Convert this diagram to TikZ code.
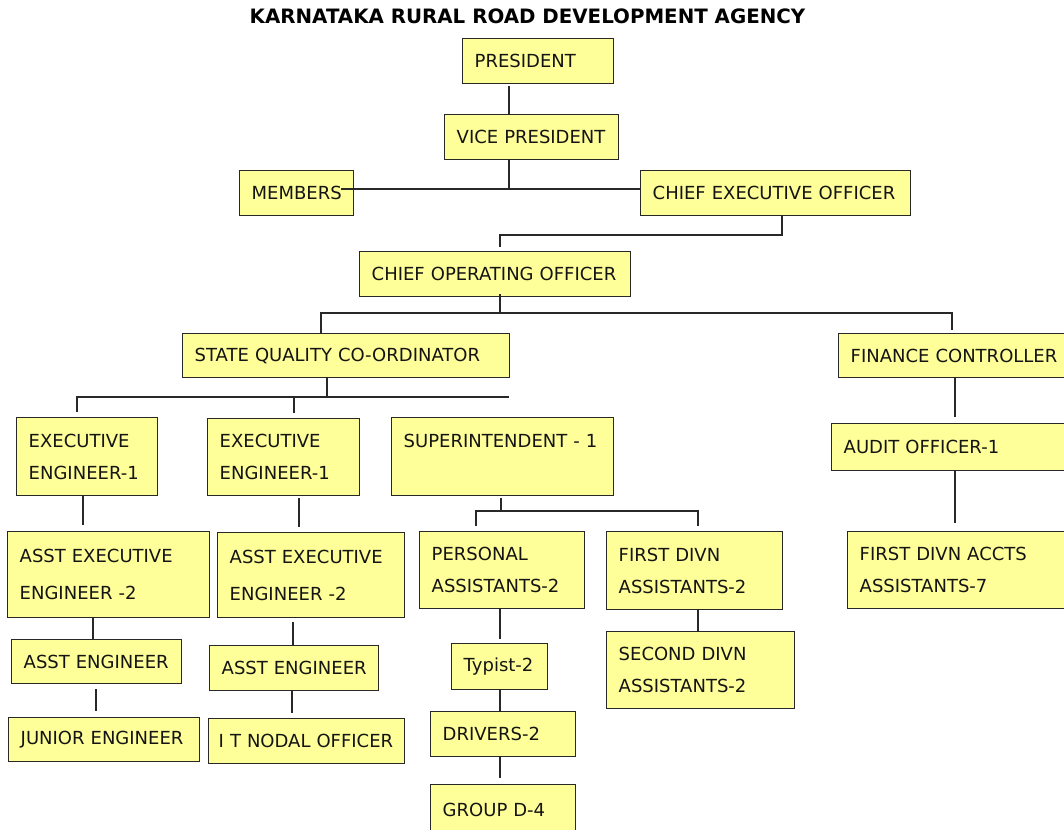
\documentclass[tikz,border=0pt]{standalone}
\usepackage{fontspec}
\setmainfont{DejaVu Sans}
\usepackage{tikz}
\definecolor{boxyellow}{RGB}{255,255,153}
\definecolor{boxline}{RGB}{40,40,40}

\begin{document}
\begin{tikzpicture}[x=1pt,y=-1pt,
  box/.style={draw=boxline,line width=1.4pt,fill=boxyellow,anchor=north west,align=left,
    inner xsep=12pt,inner ysep=0pt,text=black!92,font=\fontsize{18}{32}\selectfont},
  link/.style={draw=boxline,line width=1.2pt}]
\useasboundingbox (0,0) rectangle (1064,829);
\node[anchor=base,font=\bfseries\fontsize{19.8}{22}\selectfont] (title) at (527.5,24) {KARNATAKA RURAL ROAD DEVELOPMENT AGENCY};

\node[box,text width=127pt,minimum height=45pt] (pres) at (462,38) {PRESIDENT};
\node[box,text width=150pt,minimum height=45pt] (vp) at (444,114) {VICE PRESIDENT};
\node[box,text width=90pt,minimum height=45pt] (mem) at (239,170) {MEMBERS};
\node[box,text width=246pt,minimum height=45pt] (ceo) at (640,170) {CHIEF EXECUTIVE OFFICER};
\node[box,text width=247pt,minimum height=45pt] (coo) at (359,251) {CHIEF OPERATING OFFICER};
\node[box,text width=303pt,minimum height=44pt] (sqc) at (182,333) {STATE QUALITY CO-ORDINATOR};
\node[box,text width=216pt,minimum height=44pt] (fc) at (838,333) {FINANCE CONTROLLER};
\node[box,text width=117pt,minimum height=78pt] (eea) at (16,417) {EXECUTIVE\\ENGINEER-1};
\node[box,text width=128pt,minimum height=77pt] (eeb) at (207,418) {EXECUTIVE\\ENGINEER-1};
\node[box,text width=198pt,minimum height=78pt] (supt) at (391,417) {SUPERINTENDENT - 1\\ \mbox{}};
\node[box,text width=178pt,minimum height=86pt] (aeea) at (7,531) {ASST EXECUTIVE\\[5pt]ENGINEER -2};
\node[box,text width=163pt,minimum height=85pt] (aeeb) at (217,532) {ASST EXECUTIVE\\[5pt]ENGINEER -2};
\node[box,text width=141pt,minimum height=77pt] (pa) at (419,531) {PERSONAL\\ASSISTANTS-2};
\node[box,text width=152pt,minimum height=78pt] (fda) at (606,531) {FIRST DIVN\\ASSISTANTS-2};
\node[box,text width=164pt,minimum height=77pt] (sda) at (606,631) {SECOND DIVN\\ASSISTANTS-2};
\node[box,text width=72pt,minimum height=46pt] (typ) at (451,643) {Typist-2};
\node[box,text width=146pt,minimum height=44pt] (aea) at (11,639) {ASST ENGINEER};
\node[box,text width=167pt,minimum height=44pt] (je) at (8,717) {JUNIOR ENGINEER};
\node[box,text width=145pt,minimum height=45pt] (aeb) at (209,645) {ASST ENGINEER};
\node[box,inner xsep=10pt,text width=176pt,minimum height=45pt] (itno) at (208,718) {I T NODAL OFFICER};
\node[box,text width=121pt,minimum height=45pt] (drv) at (430,711) {DRIVERS-2};
\node[box,text width=121pt,minimum height=50pt] (grp) at (430,784) {GROUP D-4};
\node[box,text width=216pt,minimum height=47pt] (ao) at (831,423) {AUDIT OFFICER-1};
\node[box,text width=201pt,minimum height=77pt] (fdaa) at (847,531) {FIRST DIVN ACCTS\\ASSISTANTS-7};

\coordinate (cp) at (509,189);
\coordinate (cmem) at (341,189);
\coordinate (cc) at (782,235);
\coordinate (cc2) at (500,235);
\coordinate (co) at (500,313);
\coordinate (cl) at (321,313);
\coordinate (cr) at (952,313);
\coordinate (cs) at (327,397);
\coordinate (csl) at (77,397);
\coordinate (csm) at (294,397);
\coordinate (cse) at (509,397);
\coordinate (ct) at (501,511);
\coordinate (ctl) at (476,511);
\coordinate (ctr) at (698,511);
\coordinate (xa1) at (83,0);
\coordinate (xa2) at (93,0);
\coordinate (xa3) at (96,0);
\coordinate (xb1) at (299,0);
\coordinate (xb2) at (293,0);
\coordinate (xb3) at (292,0);
\coordinate (xp) at (500,0);
\coordinate (xf) at (698,0);
\coordinate (xq) at (955,0);

\draw[link,shorten <=2pt] (pres.south -| cp) -- (vp.north -| cp);
\draw[link] (vp.south -| cp) -- (cp);
\draw[link] (cmem) -- (ceo.west |- cmem);
\draw[link,shorten >=4pt] (ceo.south -| cc) -- (cc) -- (cc2) -- (coo.north -| cc2);
\draw[link,shorten <=-3pt] (coo.south -| co) -- (co);
\draw[link,shorten >=3pt] (sqc.north -| cl) -- (cl) -- (cr) -- (fc.north -| cr);
\draw[link] (sqc.south -| cs) -- (cs);
\draw[link,shorten <=5pt] (eea.north -| csl) -- (csl) -- (cse);
\draw[link,shorten >=5pt] (csm) -- (eeb.north -| csm);
\draw[link,shorten >=6pt] (eea.south -| xa1) -- (aeea.north -| xa1);
\draw[link,shorten <=2pt,shorten >=5pt] (eeb.south -| xb1) -- (aeeb.north -| xb1);
\draw[link] (aeea.south -| xa2) -- (aea.north -| xa2);
\draw[link,shorten <=5pt,shorten >=6pt] (aea.south -| xa3) -- (je.north -| xa3);
\draw[link,shorten <=4pt] (aeeb.south -| xb2) -- (aeb.north -| xb2);
\draw[link,shorten >=5pt] (aeb.south -| xb3) -- (itno.north -| xb3);
\draw[link,shorten <=2pt] (supt.south -| ct) -- (ct);
\draw[link,shorten <=5pt,shorten >=5pt] (pa.north -| ctl) -- (ctl) -- (ctr) -- (fda.north -| ctr);
\draw[link,line width=2pt] (ctl) -- (ctr);
\draw[link,shorten >=4pt] (pa.south -| xp) -- (typ.north -| xp);
\draw[link] (typ.south -| xp) -- (drv.north -| xp);
\draw[link,shorten >=6pt] (drv.south -| xp) -- (grp.north -| xp);
\draw[link] (fda.south -| xf) -- (sda.north -| xf);
\draw[link,shorten >=6pt] (fc.south -| xq) -- (ao.north -| xq);
\draw[link,shorten >=8pt] (ao.south -| xq) -- (fdaa.north -| xq);
\end{tikzpicture}
\end{document}
